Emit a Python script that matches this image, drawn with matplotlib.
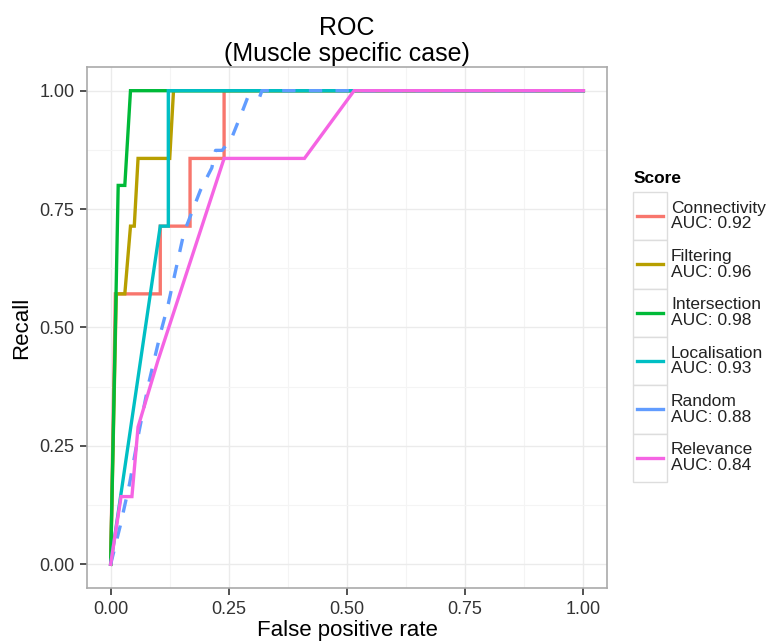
import numpy as np
import matplotlib
matplotlib.use("Agg")
import matplotlib.pyplot as plt
from matplotlib.patches import Rectangle
from matplotlib.lines import Line2D

plt.rcParams['font.family'] = ['Liberation Sans', 'DejaVu Sans']

#### ROC curves #############################
scores = ["Connectivity", "Filtering", "Intersection", "Localisation", "Random", "Relevance"]
aucs = [0.92, 0.96, 0.98, 0.93, 0.88, 0.84]
colors = ["#F8766D", "#B79F00", "#00BA38", "#00BFC4", "#619CFF", "#F564E3"]

conn_fpr = [0, 0.01, 0.105, 0.105, 0.168, 0.168, 0.24, 0.24, 1.0]
conn_tpr = [0, 0.571, 0.571, 0.714, 0.714, 0.857, 0.857, 1.0, 1.0]

filt_fpr = [0, 0.012, 0.03, 0.042, 0.05, 0.058, 0.125, 0.133, 1.0]
filt_tpr = [0, 0.571, 0.571, 0.714, 0.714, 0.857, 0.857, 1.0, 1.0]

inter_fpr = [0, 0.016, 0.03, 0.042, 1.0]
inter_tpr = [0, 0.80, 0.80, 1.0, 1.0]

loc_fpr = [0, 0.105, 0.122, 0.122, 1.0]
loc_tpr = [0, 0.714, 0.714, 1.0, 1.0]

rand_fpr = [0, 0.02, 0.04, 0.06, 0.08, 0.106, 0.122, 0.155, 0.19, 0.214,
            0.222, 0.236, 0.256, 0.28, 0.29, 0.315, 0.32, 1.0]
rand_tpr = [0, 0.08, 0.17, 0.28, 0.38, 0.49, 0.55, 0.70, 0.79, 0.837,
            0.874, 0.874, 0.90, 0.96, 0.986, 0.986, 1.0, 1.0]

rel_fpr = [0, 0.022, 0.045, 0.05, 0.058, 0.10, 0.24, 0.41, 0.515, 1.0]
rel_tpr = [0, 0.143, 0.143, 0.20, 0.29, 0.43, 0.857, 0.857, 1.0, 1.0]

curves = [(conn_fpr, conn_tpr), (filt_fpr, filt_tpr), (inter_fpr, inter_tpr),
          (loc_fpr, loc_tpr), (rand_fpr, rand_tpr), (rel_fpr, rel_tpr)]

ticks = [0.0, 0.25, 0.5, 0.75, 1.0]
tick_labels = ["0.00", "0.25", "0.50", "0.75", "1.00"]

######## Plot #############
fig = plt.figure(figsize=(7.72, 6.44), dpi=100)
ax = fig.add_axes([87 / 772, 1 - 588 / 644, 520 / 772, 521 / 644])

for name, col, (fx, ty) in zip(scores, colors, curves):
    ls = (0, (4, 4)) if name == "Random" else "-"
    ax.plot(fx, ty, color=col, lw=2.4, ls=ls, solid_joinstyle="miter")

ax.set_xlim(-0.05, 1.05)
ax.set_ylim(-0.05, 1.05)
ax.set_xticks(ticks)
ax.set_xticklabels(tick_labels)
ax.set_yticks(ticks)
ax.set_yticklabels(tick_labels)
ax.set_xticks([0.125, 0.375, 0.625, 0.875], minor=True)
ax.set_yticks([0.125, 0.375, 0.625, 0.875], minor=True)
ax.grid(which="major", color="#EBEBEB", lw=1.0)
ax.grid(which="minor", color="#F4F4F4", lw=0.8)
ax.set_axisbelow(True)
ax.tick_params(which="minor", length=0)
ax.tick_params(which="major", length=5, width=1.2, color="#333333",
               labelsize=13, labelcolor="#333333", pad=4)
for sp in ax.spines.values():
    sp.set_color("#AAAAAA")
    sp.set_linewidth(1.2)

ax.set_xlabel("False positive rate", fontsize=16, labelpad=2)
ax.set_ylabel("Recall", fontsize=16, labelpad=5)
ax.set_title("ROC\n(Muscle specific case)", fontsize=18, pad=4, linespacing=1.15)

######## Legend ###########
lax = fig.add_axes([0, 0, 1, 1])
lax.set_xlim(0, 772)
lax.set_ylim(644, 0)
lax.axis("off")
lax.text(634, 178, "Score", fontsize=12.5, fontweight="bold", va="center", ha="left")
row_h = 48.3
top = 192
for i, (name, col, auc) in enumerate(zip(scores, colors, aucs)):
    y0 = top + i * row_h
    lax.add_patch(Rectangle((633, y0), 34, row_h, facecolor="white",
                            edgecolor="#DDDDDD", lw=1.0))
    lax.add_line(Line2D([637, 663], [y0 + row_h / 2] * 2, color=col, lw=2.4))
    lax.text(671, y0 + row_h / 2, "%s\nAUC: %.2f" % (name, auc), fontsize=12.5,
             va="center", ha="left", linespacing=1.05, color="#222222")

fig.savefig("out.png", dpi=100)
